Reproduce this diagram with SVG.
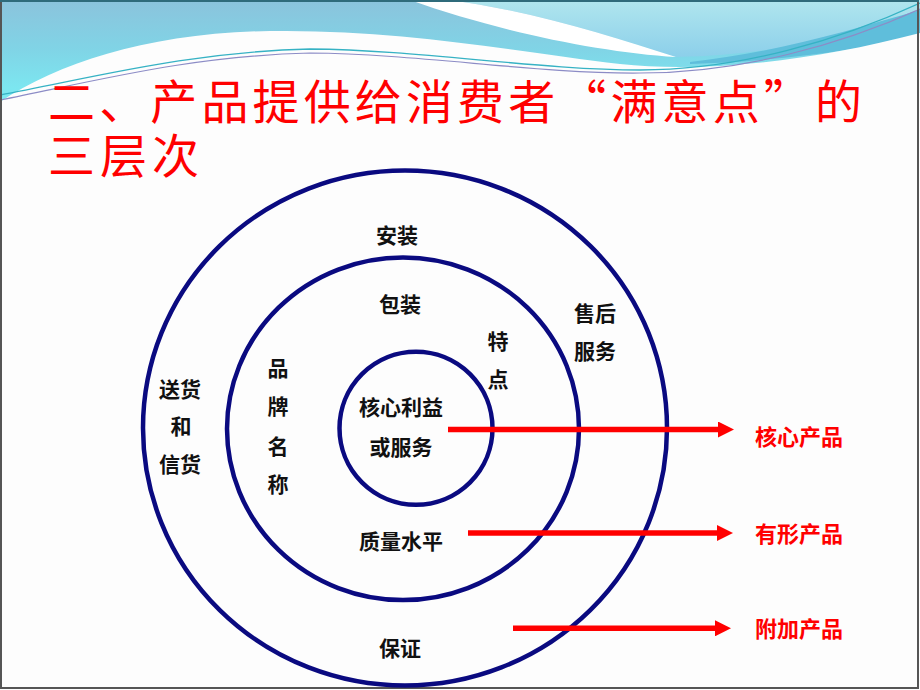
<svg xmlns="http://www.w3.org/2000/svg" width="920" height="690" viewBox="0 0 920 690">
  <defs>
    <linearGradient id="gBase" x1="0" y1="0" x2="0" y2="1">
      <stop offset="0" stop-color="#8bc3dc"/>
      <stop offset="0.45" stop-color="#80d4e6"/>
      <stop offset="0.8" stop-color="#7ce6f0"/>
      <stop offset="1" stop-color="#7aeaf2"/>
    </linearGradient>
    <linearGradient id="gLight" x1="0" y1="0" x2="0" y2="1">
      <stop offset="0" stop-color="#b0e6ee"/>
      <stop offset="1" stop-color="#8ccfea"/>
    </linearGradient>
    <marker id="arrow" viewBox="0 0 16 16" markerWidth="16" markerHeight="16" markerUnits="userSpaceOnUse" refX="0" refY="8" orient="auto">
      <path d="M0,0 L16,8 L0,16 Z" fill="#ff0000"/>
    </marker>
  </defs>
  <style>
    .ring { fill: none; stroke: #0a0a80; stroke-width: 4.5; }
    .lbl { font-family: "Noto Sans CJK SC", "Noto Sans CJK TC", sans-serif; font-size: 21px; font-weight: 700; fill: #111111; text-anchor: middle; dominant-baseline: central; }
    .out { font-family: "Noto Sans CJK SC", "Noto Sans CJK TC", sans-serif; font-size: 22px; font-weight: 700; fill: #ff0000; text-anchor: middle; dominant-baseline: central; }
    .title { font-family: "Noto Sans CJK SC", "Noto Sans CJK TC", sans-serif; font-size: 47px; font-weight: 400; fill: #ff0000; dominant-baseline: central; }
    .conn { stroke: #ff0000; stroke-width: 5.5; fill: none; marker-end: url(#arrow); }
  </style>

  <!-- background -->
  <rect x="0" y="0" width="920" height="690" fill="#fdfdfd"/>

  <!-- top banner -->
  <g id="banner">
    <rect x="0" y="0" width="920" height="110" fill="url(#gBase)"/>
    <path d="M447,0 H920 V10 C850,35 780,55 676,57 C610,36 530,10 447,0 Z" fill="url(#gLight)"/>
    <path d="M410,0 L447,0 C530,10 610,36 676,57 C600,52 500,32 410,0 Z" fill="#ffffff"/>
    <path d="M690,62 C780,52 850,30 920,10 V36 C860,50 780,61 690,64 Z" fill="#5fbedb"/>
    <path d="M0,102 C60,62 150,33 270,31 C400,29 520,52 620,64 C700,73 810,62 920,33 V110 H0 Z" fill="#fdfdfd"/>
    <path d="M0,95 C100,76 190,52 310,49 C420,50 540,70 640,70 C740,70 840,40 920,3" fill="none" stroke="#36b2c4" stroke-width="1.3"/>
    <path d="M0,100 C100,80 190,56 310,53 C420,54 540,74 640,73 C740,73 840,45 920,9" fill="none" stroke="#8c8cc6" stroke-width="1.2"/>
  </g>

  <!-- frame -->
  <rect x="1" y="1" width="917" height="687" fill="none" stroke="#555555" stroke-width="2"/>
  <line x1="0" y1="1" x2="919" y2="1" stroke="#2f6b7b" stroke-width="2"/>

  <!-- title -->
  <g id="title">
    <text class="title" x="48" y="98.5" textLength="814" lengthAdjust="spacing">二、产品提供给消费者“满意点”的</text>
    <text class="title" x="48" y="152.5" textLength="151" lengthAdjust="spacing">三层次</text>
  </g>

  <!-- rings -->
  <g id="ring-augmented">
    <ellipse class="ring" cx="405" cy="428" rx="262" ry="257.5"/>
    <text class="lbl" x="397" y="234">安装</text>
    <text class="lbl" x="595" y="312">售后</text>
    <text class="lbl" x="595" y="350">服务</text>
    <text class="lbl" x="180" y="388">送货</text>
    <text class="lbl" x="181" y="425">和</text>
    <text class="lbl" x="180" y="463">信货</text>
    <text class="lbl" x="400" y="647">保证</text>
  </g>
  <g id="ring-tangible">
    <ellipse class="ring" cx="403" cy="428.8" rx="176" ry="171.3"/>
    <text class="lbl" x="400" y="303">包装</text>
    <text class="lbl" x="498" y="340">特</text>
    <text class="lbl" x="498" y="378">点</text>
    <text class="lbl" x="278" y="367">品</text>
    <text class="lbl" x="278" y="405">牌</text>
    <text class="lbl" x="278" y="445">名</text>
    <text class="lbl" x="278" y="483">称</text>
    <text class="lbl" x="401" y="540">质量水平</text>
  </g>
  <g id="ring-core">
    <circle class="ring" cx="416" cy="428.3" r="76.5"/>
    <text class="lbl" x="401" y="406">核心利益</text>
    <text class="lbl" x="401" y="446">或服务</text>
  </g>

  <!-- connectors -->
  <g id="connectors">
    <line class="conn" x1="448" y1="429.5" x2="718" y2="429.5"/>
    <line class="conn" x1="468" y1="533" x2="717" y2="533"/>
    <line class="conn" x1="513" y1="628.3" x2="715" y2="628.3"/>
  </g>

  <!-- output labels -->
  <g id="core-product"><text class="out" x="799" y="435">核心产品</text></g>
  <g id="tangible-product"><text class="out" x="799" y="532">有形产品</text></g>
  <g id="augmented-product"><text class="out" x="799" y="627">附加产品</text></g>
</svg>
